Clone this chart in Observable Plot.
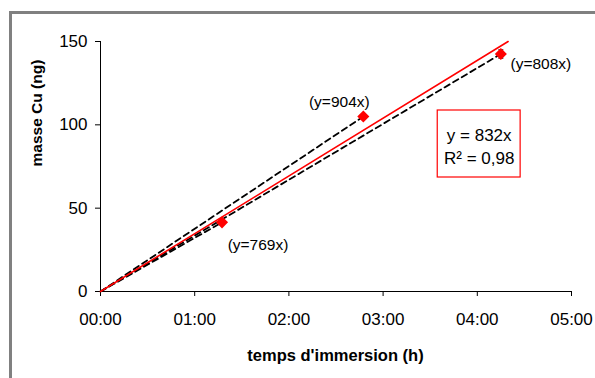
<!DOCTYPE html>
<html>
<head>
<meta charset="utf-8">
<script src="https://cdn.jsdelivr.net/npm/d3@7"></script>
<script src="https://cdn.jsdelivr.net/npm/@observablehq/plot@0.6"></script>
<style>
  html, body { margin: 0; padding: 0; background: #fff; overflow: hidden; }
  #wrap { position: relative; width: 595px; height: 378px; }
  #frame { position: absolute; left: 9px; top: 11px; width: 700px; height: 500px; border: 3px solid #808080; box-sizing: border-box; pointer-events: none; }
  #chart { position: absolute; left: 0; top: 0; }
</style>
</head>
<body>
<div id="wrap"><div id="chart"></div><div id="frame"></div></div>
<script>
// Data (time in hours, mass in ng)
const times = [1.29, 2.79, 4.25];
const masses = [41.5, 105, 142.5];
const errors = [0.8, 0.8, 2.5];
const pointLabels = ["(y=769x)", "(y=904x)", "(y=808x)"];
const labelDx = [36, -24, 40];
const labelDy = [23, -14, 10];
const fitSlopePerDay = 832;
const fitText = ["y = 832x", "R\u00b2 = 0,98"];
const xTicks = [0, 1, 2, 3, 4, 5];
const yTicks = [0, 50, 100, 150];

const pts = times.map((t, i) => ({t, m: masses[i], e: errors[i], label: pointLabels[i], dx: labelDx[i], dy: labelDy[i]}));
const dashed = pts.flatMap((p, i) => [{t: 0, m: 0, s: i}, {t: p.t, m: p.m, s: i}]);
const caps = pts.flatMap(p => [{t: p.t, m: p.m + p.e}, {t: p.t, m: p.m - p.e}]);
const slopeH = fitSlopePerDay / 24;
const fit = [{t: 0, m: 0}, {t: 150 / slopeH, m: 150}];

const capSymbol = {draw(context, size) { const r = Math.sqrt(size / Math.PI); context.moveTo(-r, 0); context.lineTo(r, 0); }};

const font = "Liberation Sans, Arial, Helvetica, sans-serif";

const plot = Plot.plot({
  width: 595,
  height: 378,
  marginLeft: 100,
  marginRight: 24,
  marginTop: 41,
  marginBottom: 87,
  style: {fontFamily: font, fontSize: "17px", color: "#000", background: "transparent"},
  x: {domain: [0, 5]},
  y: {domain: [0, 150]},
  marks: [
    Plot.ruleY([0], {stroke: "#000", strokeWidth: 1}),
    Plot.ruleX([0], {stroke: "#000", strokeWidth: 1}),
    Plot.axisX({ticks: xTicks, tickSize: 5, tickPadding: 16, tickFormat: d => String(d).padStart(2, "0") + ":00", label: null, fontSize: 17}),
    Plot.axisY({ticks: yTicks, tickSize: 5, tickPadding: 8, label: null, fontSize: 17}),
    Plot.line(dashed, {x: "t", y: "m", z: "s", stroke: "#000", strokeWidth: 1.8, strokeDasharray: "6,4"}),
    Plot.line(fit, {x: "t", y: "m", stroke: "#ff0000", strokeWidth: 1.6}),
    Plot.ruleX(pts, {x: "t", y1: d => d.m - d.e, y2: d => d.m + d.e, stroke: "#000", strokeWidth: 1}),
    Plot.dot(caps, {x: "t", y: "m", symbol: capSymbol, r: 2.5, stroke: "#000", strokeWidth: 1}),
    Plot.dot(pts, {x: "t", y: "m", symbol: "diamond2", r: 4.5, fill: "#ff0000", stroke: "#ff0000"}),
    ...pts.map(p => Plot.text([p], {x: "t", y: "m", text: "label", dx: p.dx, dy: p.dy, fontSize: 15.5, fill: "#000"})),
    Plot.rect([{x1: 3.58, x2: 4.46, y1: 68.4, y2: 108.6}], {x1: "x1", x2: "x2", y1: "y1", y2: "y2", fill: "#fff", stroke: "#ff0000", strokeWidth: 1.2}),
    Plot.text(fitText, {x: 4.02, y: (d, i) => i === 0 ? 93.5 : 79.5, text: d => d, fontSize: 17, fill: "#000"}),
    Plot.text(["masse Cu (ng)"], {frameAnchor: "left", dx: -63, rotate: -90, fontWeight: "bold", fontSize: 15.5, fill: "#000"}),
    Plot.text(["temps d'immersion (h)"], {frameAnchor: "bottom", dy: 69, dx: -0.5, fontWeight: "bold", fontSize: 16.5, fill: "#000"})
  ]
});
document.getElementById("chart").appendChild(plot);
</script>
</body>
</html>
